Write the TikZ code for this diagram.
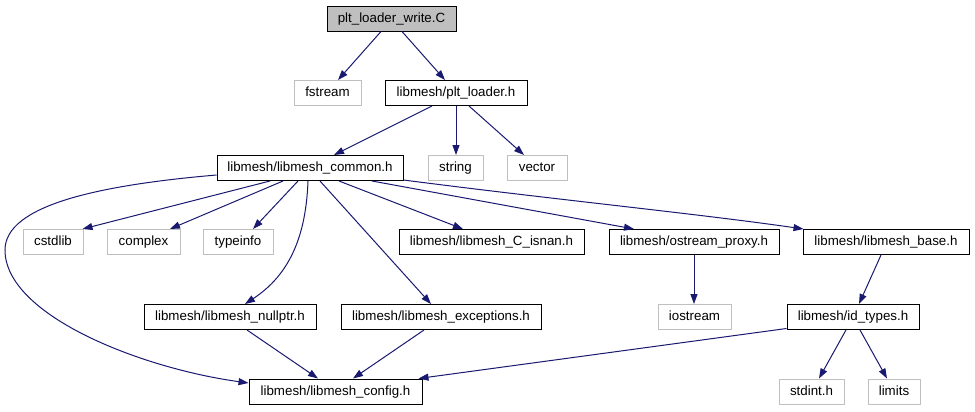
\documentclass[tikz,border=0pt]{standalone}
\usepackage{fontspec}
\setmainfont{Liberation Sans}
\usetikzlibrary{arrows.meta,calc}
\definecolor{edgec}{HTML}{191970}
\definecolor{graybd}{HTML}{BFBFBF}
\begin{document}
\begin{tikzpicture}[x=0.75pt,y=-0.75pt,
 box/.style={draw=black,line width=0.75pt,minimum height=18.75pt,inner sep=0pt,
   font=\fontsize{10}{12}\selectfont,text height=7.4pt,text depth=2pt},
 ext/.style={box,draw=graybd},
 edge/.style={draw=edgec,line width=0.75pt,-{Triangle[length=7.5pt,width=5.25pt]}}]
\useasboundingbox (0,0) rectangle (975,411);
% nodes
\node[box,fill=graybd,minimum width=96.75pt] (A) at (391.5,18.5) {plt\_loader\_write.C};
\node[ext,minimum width=50.25pt] (B) at (327.5,93) {fstream};
\node[box,minimum width=106.5pt] (C) at (456,93) {libmesh/plt\_loader.h};
\node[box,minimum width=139.5pt] (D) at (310,168) {libmesh/libmesh\_common.h};
\node[ext,minimum width=41.25pt] (E) at (455.5,168) {string};
\node[ext,minimum width=45pt] (F) at (537,168) {vector};
\node[ext,minimum width=45pt] (G) at (53,242) {cstdlib};
\node[ext,minimum width=54.75pt] (H) at (143.5,242) {complex};
\node[ext,minimum width=52.5pt] (I) at (238,242) {typeinfo};
\node[box,minimum width=138.75pt] (J) at (491.5,242) {libmesh/libmesh\_C\_isnan.h};
\node[box,minimum width=127.5pt] (K) at (694,242) {libmesh/ostream\_proxy.h};
\node[box,minimum width=124.5pt] (L) at (886,242) {libmesh/libmesh\_base.h};
\node[box,minimum width=129pt] (M) at (230,317) {libmesh/libmesh\_nullptr.h};
\node[box,minimum width=150pt] (N) at (441,317) {libmesh/libmesh\_exceptions.h};
\node[ext,minimum width=54.75pt] (O) at (694.5,317) {iostream};
\node[box,minimum width=99pt] (P) at (853,317) {libmesh/id\_types.h};
\node[box,minimum width=129.75pt] (Q) at (335.5,391.5) {libmesh/libmesh\_config.h};
\node[ext,minimum width=48.75pt] (R) at (811.5,391.5) {stdint.h};
\node[ext,minimum width=39pt] (S) at (894,391.5) {limits};
% edges
\draw[edge] ($(A.south)+(-10.5,0)$) -- ($(B.north)+(10.5,0)$);
\draw[edge] ($(A.south)+(10.5,0)$) -- ($(C.north)+(-11,0)$);
\draw[edge] ($(C.south)+(-24,0)$) -- ($(D.north)+(24,0)$);
\draw[edge] (C.south) -- (C.south |- E.north);
\draw[edge] ($(C.south)+(13,0)$) -- ($(F.north)+(-13,0)$);
\draw[edge] ($(D.south)+(-40,0)$) -- ($(G.north east)+(-1,0)$);
\draw[edge] ($(D.south)+(-27,0)$) -- ($(H.north)+(26.5,0)$);
\draw[edge] ($(D.south)+(-12,0)$) -- ($(I.north)+(15,0)$);
\draw[edge] ($(D.south)+(-2,0)$) .. controls ($(D.south)+(-4,54.5)$) and ($(M.north)+(60,-29.5)$) .. ($(M.north)+(15,0)$);
\draw[edge] ($(D.south)+(10,0)$) -- ($(N.north)+(-10,0)$);
\draw[edge] ($(D.south)+(29,0)$) -- ($(J.north)+(-28.5,0)$);
\draw[edge] ($(D.south)+(62,0)$) -- ($(K.north)+(-60,0)$);
\draw[edge] ($(D.south east)+(0,-1)$) .. controls (550,199) and (700,214) .. ($(L.north west)+(1,0)$);
\draw[edge] ($(D.west)+(0,7)$) .. controls (100,185) and (5,205) .. (5,250)
   .. controls (5,315) and (140,368) .. ($(Q.west)+(0,-8.5)$);
\draw[edge] ($(M.south)+(17,0)$) -- ($(Q.north)+(-17.5,0)$);
\draw[edge] ($(N.south)+(-17,0)$) -- ($(Q.north)+(17.5,0)$);
\draw[edge] ($(P.south west)+(0,-1.5)$) -- ($(Q.north east)+(-4,0)$);
\draw[edge] (K.south) -- (K.south |- O.north);
\draw[edge] ($(L.south)+(-5,0)$) -- ($(P.north)+(6,0)$);
\draw[edge] ($(P.south)+(-7,0)$) -- ($(R.north)+(7.5,0)$);
\draw[edge] ($(P.south)+(7,0)$) -- ($(S.north)+(-7,0)$);
\end{tikzpicture}
\end{document}
